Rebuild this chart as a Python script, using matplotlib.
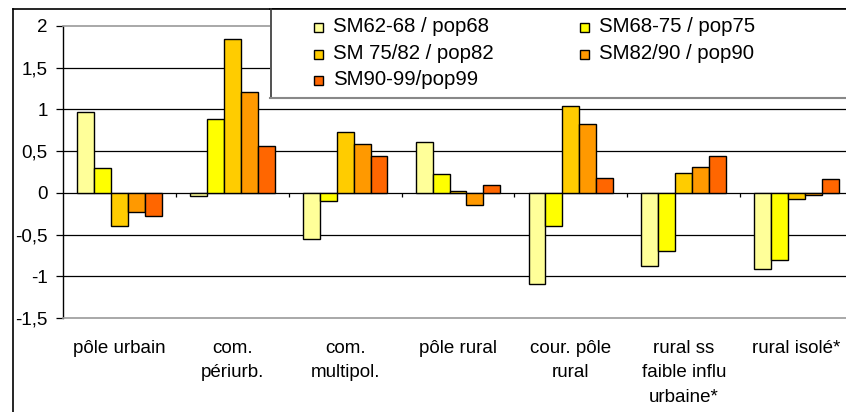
import numpy as np
import matplotlib.pyplot as plt
from matplotlib.patches import Rectangle
from matplotlib.lines import Line2D

plt.rcParams['font.family'] = ['Liberation Sans', 'DejaVu Sans']

# ---- data ----
categories = ["pôle urbain", "com.\npériurb.", "com.\nmultipol.", "pôle rural",
              "cour. pôle\nrural", "rural ss\nfaible influ\nurbaine*", "rural isolé*"]
series_names = ["SM62-68 / pop68", "SM68-75 / pop75", "SM 75/82 / pop82",
                "SM82/90 / pop90", "SM90-99/pop99"]
sm62_68 = [0.97, -0.04, -0.55, 0.61, -1.09, -0.88, -0.91]
sm68_75 = [0.30, 0.88, -0.10, 0.23, -0.40, -0.70, -0.80]
sm75_82 = [-0.40, 1.84, 0.73, 0.02, 1.04, 0.24, -0.07]
sm82_90 = [-0.23, 1.21, 0.58, -0.15, 0.82, 0.31, -0.02]
sm90_99 = [-0.28, 0.56, 0.44, 0.10, 0.18, 0.44, 0.17]
yticks = [-1.5, -1, -0.5, 0, 0.5, 1, 1.5, 2]
ytick_labels = ["-1,5", "-1", "-0,5", "0", "0,5", "1", "1,5", "2"]

colors = ["#FFFF99", "#FFFF00", "#FFCC00", "#FF9900", "#FF6600"]
all_series = [sm62_68, sm68_75, sm75_82, sm82_90, sm90_99]

W, H = 846, 412
fig = plt.figure(figsize=(W / 100, H / 100), dpi=100)

def fx(x):
    return x / W

def fy(y):
    return 1 - y / H

# plot area (runs past the right edge, like the original crop)
left, top, bottom, right = 63, 26, 318, 853
ax = fig.add_axes([fx(left), fy(bottom), (right - left) / W, (bottom - top) / H])

n = len(categories)
bw = 0.15
gap = 0.125
x0 = np.arange(n)
for k, (vals, c) in enumerate(zip(all_series, colors)):
    ax.bar(x0 + gap + bw * k + bw / 2, vals, width=bw, color=c,
           edgecolor="black", linewidth=1.0, zorder=3)

ax.set_xlim(0, n)
ax.set_ylim(-1.5, 2)

# gridlines
for v in yticks[1:-1]:
    ax.axhline(v, color="black", linewidth=0.9, zorder=1)
# category boundary ticks on zero line
ax.vlines(np.arange(1, n), -0.055, 0, color="black", linewidth=0.9, zorder=2)

ax.set_yticks(yticks)
ax.set_yticklabels(ytick_labels)
ax.tick_params(axis="y", direction="out", length=5, width=0.9, pad=6,
               labelsize=13.5, colors="black")
ax.set_xticks(x0 + 0.5)
ax.set_xticklabels(categories, fontsize=13.5, linespacing=1.55, va="top")
ax.tick_params(axis="x", length=0, pad=16)

for s in ["top", "bottom"]:
    ax.spines[s].set_color("#999999")
    ax.spines[s].set_linewidth(1.2)
ax.spines["left"].set_color("black")
ax.spines["left"].set_linewidth(1.0)
ax.spines["right"].set_visible(False)

# outer chart frame
fig.add_artist(Line2D([fx(13), fx(13)], [fy(9), fy(H + 5)], color="black", linewidth=1.2))
fig.add_artist(Line2D([fx(13), fx(W + 5)], [fy(9), fy(9)], color="black", linewidth=1.2))

# legend box
fig.add_artist(Rectangle((fx(270), fy(98)), (W + 10 - 270) / W, (98 - 9) / H,
                         transform=fig.transFigure, facecolor="white",
                         edgecolor="none", zorder=5))
fig.add_artist(Line2D([fx(270), fx(W + 5)], [fy(9), fy(9)], color="black", linewidth=1.2, zorder=6))
fig.add_artist(Line2D([fx(270.5), fx(270.5)], [fy(9), fy(98)], color="#333333", linewidth=1.2, zorder=6))
fig.add_artist(Line2D([fx(270), fx(W + 5)], [fy(98), fy(98)], color="#888888", linewidth=1.5, zorder=6))

leg_x = [318, 584]
leg_base = [32, 59, 85]
for i, (name, c) in enumerate(zip(series_names, colors)):
    col, row = i % 2, i // 2
    mx, by = leg_x[col], leg_base[row]
    fig.add_artist(Rectangle((fx(mx - 4.5), fy(by)), 9 / W, 9 / H,
                             transform=fig.transFigure, facecolor=c,
                             edgecolor="black", linewidth=1.0, zorder=7))
    fig.text(fx(mx + 15), fy(by), name, fontsize=14.7, va="baseline",
             ha="left", zorder=7)

fig.savefig("out.png", dpi=100)
